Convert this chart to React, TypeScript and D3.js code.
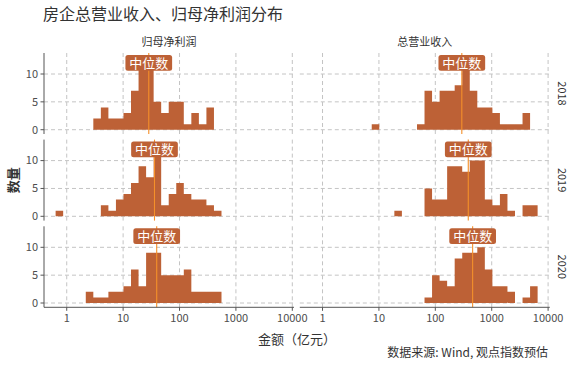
import * as d3 from "d3"

const years = ["2018", "2019", "2020"]
const metrics = ["归母净利润", "总营业收入"]

// histogram bins on log10 scale (shared by all panels)
const binLog0 = -0.197
const binLogWidth = 0.1337

// counts per bin, bin 0..29
const profit2018 = [0, 0, 0, 0, 0, 2, 4, 2, 2, 3, 7, 12, 12, 5, 3, 5, 5, 1, 3, 1, 4, 0, 0, 0, 0, 0, 0, 0, 0, 0]
const profit2019 = [1, 0, 0, 0, 0, 0, 2, 1, 3, 4, 6, 9, 7, 12, 2, 4, 6, 4, 3, 3, 2, 1, 0, 0, 0, 0, 0, 0, 0, 0]
const profit2020 = [0, 0, 0, 0, 2, 1, 1, 2, 2, 3, 6, 3, 9, 9, 5, 5, 5, 6, 2, 2, 2, 2, 0, 0, 0, 0, 0, 0, 0, 0]
const revenue2018 = [0, 0, 0, 0, 0, 0, 0, 0, 1, 0, 0, 0, 0, 0, 1, 7, 5, 7, 7, 8, 12, 7, 4, 4, 3, 1, 1, 1, 3, 0]
const revenue2019 = [0, 0, 0, 0, 0, 0, 0, 0, 0, 0, 0, 1, 0, 0, 0, 5, 3, 3, 9, 9, 8, 10, 10, 3, 2, 4, 1, 0, 2, 2]
const revenue2020 = [0, 0, 0, 0, 0, 0, 0, 0, 0, 0, 0, 0, 0, 0, 0, 1, 5, 4, 3, 8, 9, 9, 10, 6, 3, 3, 2, 0, 1, 3]

const profitMedian = [28.5, 36, 39.4]
const revenueMedian = [295, 384, 459]

const xTicks = [1, 10, 100, 1000, 10000]
const yTicks = [0, 5, 10]
const medianLabel = "中位数"
const labelY = 12

const counts = [
    [profit2018, revenue2018],
    [profit2019, revenue2019],
    [profit2020, revenue2020],
]
const medians = [
    [profitMedian[0], revenueMedian[0]],
    [profitMedian[1], revenueMedian[1]],
    [profitMedian[2], revenueMedian[2]],
]

const font = "'Noto Sans CJK SC', 'Noto Sans', sans-serif"
const barColor = "#bd6136"
const lineColor = "#f5902a"
const gridColor = "#c4c4c4"
const textColor = "#4d4d4d"

const panelW = 250
const panelH = 81
const colLeft = [44, 299.8]
const rowTop = [53, 139.6, 226.3]

export default function App() {
    const x = d3
        .scaleLog()
        .domain([Math.pow(10, -0.403), Math.pow(10, 4.03)])
        .range([0, panelW])
    const y = d3.scaleLinear().domain([-0.77, 13.77]).range([panelH, 0])

    const bottom = rowTop[2] + panelH

    // all bars of a panel as one path, so neighbours have no seams
    const barsPath = (data: number[]) => {
        const p = d3.path()
        data.forEach((c, k) => {
            if (c === 0) return
            const x0 = x(Math.pow(10, binLog0 + k * binLogWidth))
            const x1 = x(Math.pow(10, binLog0 + (k + 1) * binLogWidth))
            p.rect(x0, y(c), x1 - x0, y(0) - y(c))
        })
        return p.toString()
    }

    return (
        <svg
            width={580}
            height={367}
            style={{ position: "absolute", left: 0, top: 0, background: "#fff" }}
            fontFamily={font}
        >
            <text x={43} y={20} fontSize={16} fill="#333">
                房企总营业收入、归母净利润分布
            </text>

            {metrics.map((m, j) => (
                <text key={m} x={colLeft[j] + panelW / 2} y={46} fontSize={11} fill="#333" textAnchor="middle">
                    {m}
                </text>
            ))}

            {years.map((yr, i) => (
                <text
                    key={yr}
                    transform={`translate(${558},${rowTop[i] + panelH / 2}) rotate(90)`}
                    fontSize={11}
                    fill="#333"
                    textAnchor="middle"
                >
                    {yr}
                </text>
            ))}

            {years.map((yr, i) =>
                metrics.map((m, j) => {
                    const data = counts[i][j]
                    const mx = x(medians[i][j])
                    const ly = y(labelY)
                    const lw = 46.7
                    const lh = 15.7
                    return (
                        <g key={yr + m} transform={`translate(${colLeft[j]},${rowTop[i]})`}>
                            {xTicks.map((t) => (
                                <line
                                    key={"gx" + t}
                                    x1={x(t)}
                                    x2={x(t)}
                                    y1={0}
                                    y2={panelH}
                                    stroke={gridColor}
                                    strokeDasharray="4,3"
                                />
                            ))}
                            {yTicks.map((t) => (
                                <line
                                    key={"gy" + t}
                                    x1={0}
                                    x2={panelW}
                                    y1={y(t)}
                                    y2={y(t)}
                                    stroke={gridColor}
                                    strokeDasharray="4,3"
                                />
                            ))}
                            <path d={barsPath(data)} fill={barColor} />
                            <line x1={mx} x2={mx} y1={0} y2={panelH} stroke={lineColor} strokeWidth={1.1} />
                            <rect
                                x={mx - lw / 2}
                                y={ly - lh / 2}
                                width={lw}
                                height={lh}
                                rx={2.5}
                                fill={barColor}
                            />
                            <text x={mx} y={ly} dy="0.36em" fontSize={13} fill="#fff" textAnchor="middle">
                                {medianLabel}
                            </text>
                        </g>
                    )
                }),
            )}

            {/* y axis */}
            {rowTop.map((top) => (
                <g key={"ya" + top} transform={`translate(${colLeft[0]},${top})`}>
                    <line x1={0} x2={0} y1={0} y2={panelH} stroke="#555" strokeWidth={1} />
                    {yTicks.map((t) => (
                        <g key={t}>
                            <line x1={-3.5} x2={0} y1={y(t)} y2={y(t)} stroke="#555" />
                            <text x={-6} y={y(t)} dy="0.35em" fontSize={11} fill={textColor} textAnchor="end">
                                {t}
                            </text>
                        </g>
                    ))}
                </g>
            ))}

            {/* x axis */}
            {colLeft.map((left) => (
                <g key={"xa" + left} transform={`translate(${left},${bottom})`}>
                    <line x1={0} x2={panelW} y1={0} y2={0} stroke="#555" strokeWidth={1} />
                    {xTicks.map((t) => (
                        <g key={t}>
                            <line x1={x(t)} x2={x(t)} y1={0} y2={3.5} stroke="#555" />
                            <text x={x(t)} y={11} dy="0.35em" fontSize={11} fill={textColor} textAnchor="middle">
                                {d3.format("d")(t)}
                            </text>
                        </g>
                    ))}
                </g>
            ))}

            <text
                x={(colLeft[0] + colLeft[1] + panelW) / 2}
                y={339}
                dy="0.35em"
                fontSize={13}
                fill="#333"
                textAnchor="middle"
            >
                金额（亿元）
            </text>
            <text
                transform={`translate(13,${(rowTop[0] + bottom) / 2}) rotate(-90)`}
                dy="0.35em"
                fontSize={13}
                fontWeight="bold"
                fill="#333"
                textAnchor="middle"
            >
                数量
            </text>
            <text x={548} y={353} dy="0.35em" fontSize={12} fill="#333" textAnchor="end">
                数据来源: Wind, 观点指数预估
            </text>
        </svg>
    )
}
